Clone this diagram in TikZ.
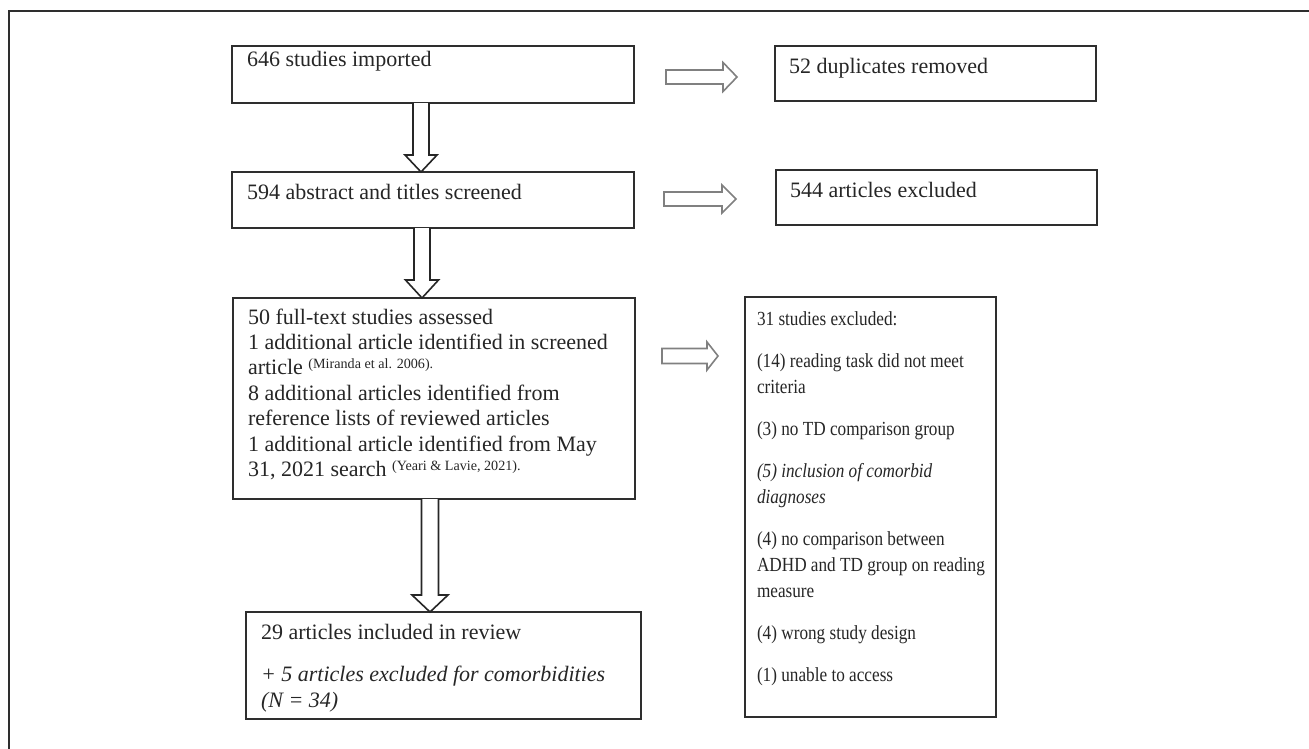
\documentclass[tikz,border=0pt]{standalone}
\usepackage{fontspec}
\setmainfont{Liberation Serif}
\newfontfamily\condfont[FakeStretch=0.86]{Liberation Serif}
\usetikzlibrary{calc}
\definecolor{boxline}{HTML}{2E2E2E}
\definecolor{arrgray}{HTML}{808080}
\tikzset{
  box/.style={draw=boxline, line width=1.3pt, rectangle, inner sep=0pt, outer sep=0pt, anchor=north west},
  txt/.style={anchor=north west, inner sep=0pt, outer sep=0pt, align=left, text=black!85,
              font=\fontsize{16.5}{19.1}\selectfont},
  txtr/.style={anchor=north west, inner sep=0pt, outer sep=0pt, align=left, text=black!85,
              font=\condfont\fontsize{15}{19.5}\selectfont},
  darr/.style={draw=black!85, line width=1.2pt, fill=white},
  rarr/.style={draw=arrgray, line width=1.2pt, fill=white},
  frame/.style={draw=boxline, line width=1.3pt}
}
\newcommand\fst{\rule{0pt}{12pt}}
\newcommand\refsup[1]{\raisebox{4.5pt}{\fontsize{10.6}{12}\selectfont #1}}
% vertical block arrow: from, to, x px, shaft half, head half, head length
\newcommand\vblk[6]{\draw[darr] let \p1=(#1.south), \p2=(#2.north) in
 (#3*0.75pt-#4*0.75pt,\y1) -- (#3*0.75pt-#4*0.75pt,\y2+#6*0.75pt) -- (#3*0.75pt-#5*0.75pt,\y2+#6*0.75pt)
 -- (#3*0.75pt,\y2) -- (#3*0.75pt+#5*0.75pt,\y2+#6*0.75pt) -- (#3*0.75pt+#4*0.75pt,\y2+#6*0.75pt)
 -- (#3*0.75pt+#4*0.75pt,\y1);}
% horizontal block arrow: from, to, y px, gap left, gap right, shaft half, head half, head length
\newcommand\hblk[8]{\draw[rarr] let \p1=(#1.east), \p2=(#2.west) in
 (\x1+#4*0.75pt, -#3*0.75pt+#6*0.75pt) -- (\x2-#5*0.75pt-#8*0.75pt, -#3*0.75pt+#6*0.75pt)
 -- (\x2-#5*0.75pt-#8*0.75pt, -#3*0.75pt+#7*0.75pt) -- (\x2-#5*0.75pt, -#3*0.75pt)
 -- (\x2-#5*0.75pt-#8*0.75pt, -#3*0.75pt-#7*0.75pt) -- (\x2-#5*0.75pt-#8*0.75pt, -#3*0.75pt-#6*0.75pt)
 -- (\x1+#4*0.75pt, -#3*0.75pt-#6*0.75pt) -- cycle;}
\begin{document}
\begin{tikzpicture}[x=0.75pt,y=-0.75pt]
\useasboundingbox[fill=white] (0,0) rectangle (1309,749);
% outer frame (top and left edges visible)
\coordinate (fbl) at (9,749);
\coordinate (ftl) at (9,11);
\coordinate (ftr) at (1309,11);
\draw[frame] (fbl) -- (ftl) -- (ftr);

% boxes
\node[box, minimum width=301.5pt, minimum height=42.75pt] (b1) at (232,46) {};
\node[box, minimum width=301.5pt, minimum height=42pt] (b2) at (232,172) {};
\node[box, minimum width=301.5pt, minimum height=150.75pt] (b3) at (233,298) {};
\node[box, minimum width=296.25pt, minimum height=80.25pt] (b4) at (246,612) {};
\node[box, minimum width=240.75pt, minimum height=41.25pt] (r1) at (775,46) {};
\node[box, minimum width=240.75pt, minimum height=41.25pt] (r2) at (776,170) {};
\node[box, minimum width=188.25pt, minimum height=315pt] (r3) at (745,297) {};

% texts
\node[txt] (t1) at (247,50) {\fst 646 studies imported};
\node[txt] (t2) at (247,183) {\fst 594 abstract and titles screened};
\node[txt] (t3) at (248,308) {\fst 50 full-text studies assessed\\
1 additional article identified in screened\\
article \refsup{(Miranda et al. 2006).}\\
8 additional articles identified from\\
reference lists of reviewed articles\\
1 additional article identified from May\\
31, 2021 search \refsup{(Yeari \& Lavie, 2021).}};
\node[txt, font=\fontsize{16.5}{19.5}\selectfont] (t4) at (261,623) {\fst 29 articles included in review\\[12.4pt]
\textit{+ 5 articles excluded for comorbidities}\\
\textit{(N = 34)}};
\node[txt] (s1) at (789,58) {\fst 52 duplicates removed};
\node[txt] (s2) at (790,181) {\fst 544 articles excluded};
\node[txtr] (s3) at (757,309) {\fst 31 studies excluded:\\[12pt]
(14) reading task did not meet\\
criteria\\[12pt]
(3) no TD comparison group\\[12pt]
\textit{(5) inclusion of comorbid}\\
\textit{diagnoses}\\[12.5pt]
(4) no comparison between\\
ADHD and TD group on reading\\
measure\\[12pt]
(4) wrong study design\\[12pt]
(1) unable to access};

% vertical block arrows
\vblk{b1}{b2}{421}{8}{16}{17}
\vblk{b2}{b3}{422}{8}{16.5}{18}
\vblk{b3}{b4}{430}{8.5}{18}{17}

% horizontal block arrows
\hblk{b1}{r1}{77}{32}{38}{7}{14.5}{14}
\hblk{b2}{r2}{199}{30}{40}{7}{14}{14}
\hblk{b3}{r3}{356}{27}{27}{7.5}{14}{11}
\end{tikzpicture}
\end{document}
